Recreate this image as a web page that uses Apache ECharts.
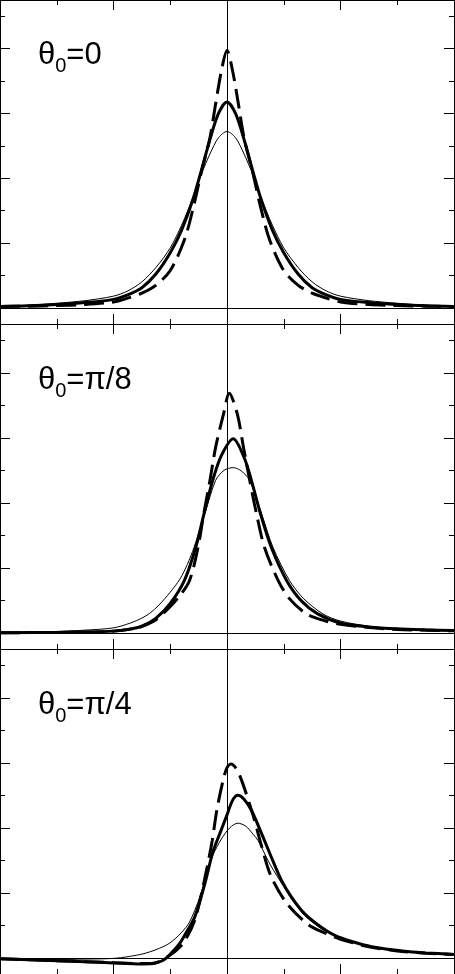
<!DOCTYPE html>
<html>
<head>
<meta charset="utf-8">
<script src="https://cdn.jsdelivr.net/npm/echarts@6/dist/echarts.min.js"></script>
<style>
html, body { margin: 0; padding: 0; background: #fff; }
#chart { width: 455px; height: 974px; }
</style>
</head>
<body>
<div id="chart"></div>
<script>
// panel labels (theta_0 values)
var labels = ["0", "π/8", "π/4"];

// axis ticks
var xMajorTicks = [-4, -2, 0, 2, 4];
var xMinorTicks = [-3, -1, 1, 3];
var yMajorTicks = [0, 2, 4, 6, 8];
var yMinorTicks = [1, 3, 5, 7, 9];

// panel 1, theta0 = 0
var thin0 = [[-4, 0.05], [-3.5, 0.08], [-3, 0.14], [-2.5, 0.22], [-2, 0.36], [-1.75, 0.52], [-1.5, 0.8], [-1.25, 1.25], [-1, 1.85], [-0.8, 2.55], [-0.6, 3.4], [-0.45, 4.13], [-0.3, 4.75], [-0.15, 5.25], [0, 5.44],
    [0.15, 5.25], [0.3, 4.75], [0.45, 4.13], [0.6, 3.4], [0.8, 2.55], [1, 1.85], [1.25, 1.25], [1.5, 0.8], [1.75, 0.52], [2, 0.36], [2.5, 0.22], [3, 0.14], [3.5, 0.08], [4, 0.05]];
var thick0 = [[-4, 0.04], [-3.5, 0.06], [-3, 0.1], [-2.5, 0.16], [-2, 0.26], [-1.75, 0.4], [-1.5, 0.62], [-1.25, 1.05], [-1, 1.7], [-0.8, 2.4], [-0.6, 3.35], [-0.45, 4.25], [-0.3, 5.2], [-0.15, 6.0], [0, 6.35],
    [0.15, 6.0], [0.3, 5.2], [0.45, 4.25], [0.6, 3.35], [0.8, 2.4], [1, 1.7], [1.25, 1.05], [1.5, 0.62], [1.75, 0.4], [2, 0.26], [2.5, 0.16], [3, 0.1], [3.5, 0.06], [4, 0.04]];
var dash0 = [[-4, 0.04], [-3.5, 0.05], [-3, 0.07], [-2.5, 0.1], [-2, 0.18], [-1.75, 0.3], [-1.5, 0.45], [-1.25, 0.7], [-1, 1.15], [-0.75, 2.1], [-0.6, 3.05], [-0.45, 4.2], [-0.3, 5.25], [-0.2, 6.3], [-0.1, 7.3], [0, 7.94],
    [0.1, 7.3], [0.2, 6.3], [0.3, 5.25], [0.45, 4.2], [0.6, 3.05], [0.75, 2.1], [1, 1.15], [1.25, 0.7], [1.5, 0.45], [1.75, 0.3], [2, 0.18], [2.5, 0.1], [3, 0.07], [3.5, 0.05], [4, 0.04]];

// panel 2, theta0 = pi/8
var thin1 = [[-4, 0.01], [-3.5, 0.02], [-3, 0.04], [-2.5, 0.08], [-2, 0.15], [-1.7, 0.3], [-1.5, 0.45], [-1.36, 0.6], [-1.2, 0.85], [-1, 1.25], [-0.83, 1.65], [-0.7, 2.1], [-0.58, 2.63], [-0.39, 3.66], [-0.2, 4.69], [-0.05, 5.0], [0.11, 5.08],
    [0.25, 4.98], [0.4, 4.69], [0.61, 3.66], [0.81, 2.63], [1.1, 1.61], [1.35, 1.05], [1.69, 0.58], [2, 0.36], [2.5, 0.2], [3, 0.12], [3.5, 0.09], [4, 0.07]];
var thick1 = [[-4, 0], [-3, 0.01], [-2.5, 0.02], [-2, 0.05], [-1.75, 0.1], [-1.5, 0.2], [-1.25, 0.45], [-1, 0.9], [-0.75, 1.61], [-0.55, 2.63], [-0.4, 3.7], [-0.25, 4.7], [-0.1, 5.45], [0.11, 5.97],
    [0.3, 5.4], [0.43, 4.69], [0.59, 3.66], [0.78, 2.63], [1.05, 1.61], [1.3, 1.0], [1.6, 0.58], [2, 0.3], [2.5, 0.18], [3, 0.12], [3.5, 0.09], [4, 0.07]];
var dash1 = [[-4, 0], [-3, 0.01], [-2.5, 0.02], [-2, 0.05], [-1.56, 0.16], [-1.3, 0.35], [-1.13, 0.58], [-0.85, 1.1], [-0.66, 1.61], [-0.51, 2.63], [-0.41, 3.66], [-0.3, 4.69], [-0.2, 5.71], [-0.06, 6.74], [0.04, 7.37],
    [0.18, 6.74], [0.29, 5.71], [0.4, 4.69], [0.52, 3.66], [0.66, 2.63], [0.9, 1.61], [1.1, 1.05], [1.4, 0.58], [1.7, 0.38], [2, 0.26], [2.5, 0.16], [3, 0.1], [3.5, 0.08], [4, 0.06]];

// panel 3, theta0 = pi/4
var thin2 = [[-4, -0.03], [-3, -0.05], [-2.5, -0.04], [-2, -0.02], [-1.72, 0.04], [-1.48, 0.12], [-1.25, 0.25], [-1.01, 0.45], [-0.8, 0.78], [-0.66, 1.1], [-0.48, 1.86], [-0.36, 2.58], [-0.25, 3.15], [-0.1, 3.65], [0.05, 4.0], [0.19, 4.14],
    [0.33, 4.05], [0.46, 3.8], [0.55, 3.6], [0.72, 3.0], [0.81, 2.72], [0.96, 2.3], [1.14, 1.8], [1.37, 1.3], [1.66, 0.9], [2, 0.6], [2.5, 0.36], [3, 0.22], [3.5, 0.15], [4, 0.1]];
var thick2 = [[-4, -0.03], [-3.5, -0.06], [-3, -0.09], [-2.5, -0.12], [-2, -0.16], [-1.5, -0.19], [-1.3, -0.18], [-1.15, -0.1], [-1.05, 0.02], [-0.95, 0.2], [-0.85, 0.4], [-0.75, 0.68], [-0.57, 1.25], [-0.39, 2.28], [-0.25, 3.25], [-0.12, 3.85], [-0.01, 4.35], [0.1, 4.85], [0.19, 5.0],
    [0.3, 4.88], [0.43, 4.54], [0.61, 3.82], [0.78, 3.1], [0.96, 2.38], [1.14, 1.86], [1.37, 1.35], [1.66, 0.94], [1.9, 0.69], [2.2, 0.5], [2.55, 0.34], [3.13, 0.2], [3.5, 0.15], [4, 0.1]];
var dash2 = [[-4, -0.03], [-3, -0.09], [-2, -0.15], [-1.5, -0.18], [-1.3, -0.17], [-1.15, -0.08], [-1.05, 0.03], [-0.9, 0.22], [-0.75, 0.5], [-0.57, 1.15], [-0.45, 1.97], [-0.35, 2.79], [-0.26, 3.61], [-0.18, 4.53], [-0.07, 5.45], [0.0, 5.85], [0.07, 5.96],
    [0.17, 5.8], [0.28, 5.35], [0.46, 4.38], [0.61, 3.43], [0.77, 2.53], [1.05, 1.68], [1.43, 1.02], [1.7, 0.78], [2, 0.57], [2.5, 0.34], [3, 0.21], [3.5, 0.14], [4, 0.1]];

var thinSets = [thin0, thin1, thin2];
var thickSets = [thick0, thick1, thick2];
var dashSets = [dash0, dash1, dash2];

var dom = document.getElementById("chart");
var myChart = echarts.init(dom, null, { renderer: "canvas" });

var panelH = 325;
var grids = [], xAxes = [], yAxes = [], series = [], titles = [];
var black = "#000";

for (var i = 0; i < 3; i++) {
    var panelTop = -1 + panelH * i;
    grids.push({ left: 0, right: 1, top: panelTop, height: panelH, containLabel: false });

    ["bottom", "top"].forEach(function (pos) {
        xAxes.push({
            gridIndex: i, type: "value", min: -4, max: 4, interval: 2, position: pos,
            axisLine: { show: true, onZero: false, lineStyle: { color: black, width: 1 } },
            axisTick: { show: true, inside: true, length: 10, lineStyle: { color: black } },
            minorTick: { show: true, splitNumber: 2, length: 5, lineStyle: { color: black } },
            axisLabel: { show: false }, splitLine: { show: false }
        });
    });

    ["left", "right"].forEach(function (pos) {
        yAxes.push({
            gridIndex: i, type: "value", min: -0.5, max: 9.5, position: pos,
            axisLine: { show: true, onZero: false, lineStyle: { color: black, width: 1 } },
            axisTick: { show: true, inside: true, length: 10, customValues: yMajorTicks, lineStyle: { color: black } },
            axisLabel: { show: false }, splitLine: { show: false }
        });
        yAxes.push({
            gridIndex: i, type: "value", min: -0.5, max: 9.5, position: pos,
            axisLine: { show: false, onZero: false },
            axisTick: { show: true, inside: true, length: 5, customValues: yMinorTicks, lineStyle: { color: black } },
            axisLabel: { show: false }, splitLine: { show: false }
        });
    });

    var xi = i * 2, yi = i * 4;
    series.push({
        type: "line", xAxisIndex: xi, yAxisIndex: yi, data: thinSets[i],
        showSymbol: false, smooth: 0.3, lineStyle: { color: black, width: 1 },
        markLine: {
            silent: true, symbol: "none", label: { show: false },
            lineStyle: { color: black, width: 1, type: "solid" },
            data: [{ yAxis: 0 }, { xAxis: 0 }]
        }
    });
    series.push({
        type: "line", xAxisIndex: xi, yAxisIndex: yi, data: thickSets[i],
        showSymbol: false, smooth: 0.3, lineStyle: { color: black, width: 3 }
    });
    series.push({
        type: "line", xAxisIndex: xi, yAxisIndex: yi, data: dashSets[i],
        showSymbol: false, smooth: 0.3, lineStyle: { color: black, width: 3, type: [20, 8] }
    });

    titles.push({
        left: 38, top: panelTop + 35, padding: 0,
        text: "{a|θ}{b|0}{a|=" + labels[i] + "}",
        textStyle: {
            rich: {
                a: { fontFamily: "Liberation Sans", fontSize: 31, fontWeight: "normal", lineHeight: 42, color: black },
                b: { fontFamily: "Liberation Sans", fontSize: 20, fontWeight: "normal", verticalAlign: "bottom", color: black }
            }
        }
    });
}

var option = {
    animation: false,
    backgroundColor: "#fff",
    title: titles,
    grid: grids,
    xAxis: xAxes,
    yAxis: yAxes,
    series: series
};
myChart.setOption(option, true);
</script>
</body>
</html>
